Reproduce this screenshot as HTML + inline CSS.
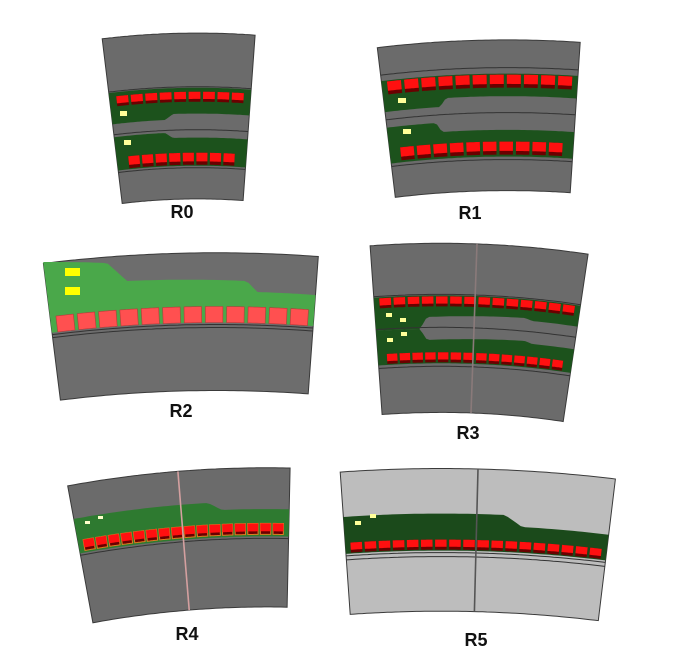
<!DOCTYPE html>
<html><head><meta charset="utf-8"><style>
html,body{margin:0;padding:0;background:#fff;}
svg{display:block;}
text{font-family:"Liberation Sans",sans-serif;font-weight:bold;font-size:18px;fill:#111;}
</style></head><body>
<svg id="s" width="687" height="660" viewBox="0 0 687 660" xmlns="http://www.w3.org/2000/svg"></svg>
<script>
const NS='http://www.w3.org/2000/svg';
const svg=document.getElementById('s');

const panelLabels=['R0','R1','R2','R3','R4','R5'];
const labelPos=[[182,218],[470,219],[181,417],[468,439],[187,640],[476,646]];
const corners=[
 [[102,37],[255,37],[122,202],[243,202]],
 [[377,45],[580,45],[395,195],[570,195]],
 [[43,260],[318,260],[60,397],[308,397]],
 [[370,245],[588,255],[382,413],[563,423]],
 [[67,482],[290,472],[92,618],[287,612]],
 [[340,469],[615,482],[350,612],[598,623]]
];
const G='#1c521c';
const cfgs=[
 {gray:'#6b6b6b',
  bands:[{o:[[178,88]],i:[[165,120],[173,114]],f:G},{o:[[165,133],[173,138]],i:[[178,166]],f:G}],
  pads:[{t:[178,92],b:[178,102],n:9,m:0.04},{t:[178,153],b:[178,165],n:8,m:0.08}],
  lines:[[178,87],[178,130],[178,168]],
  yel:[[120,111,7,5],[124,140,7,5]], ycol:'#ffff99'},
 {gray:'#6b6b6b',
  bands:[{o:[[478,74]],i:[[440,107],[446,98]],f:G},{o:[[436,123],[442,132]],i:[[478,157]],f:G}],
  pads:[{t:[478,75],b:[478,88],n:11,m:0.02},{t:[478,142],b:[478,155],n:10,m:0.05}],
  lines:[[478,68],[478,113],[478,160]],
  yel:[[398,98,8,5],[403,129,8,5]], ycol:'#ffff99'},
 {gray:'#6d6d6d',
  bands:[{o:[[43,262],[107,263],[127,281],[247,281],[257,292]],i:[[180,323]],f:'#4aa84a'}],
  pads:[{t:[180,307],b:[180,323],n:12,m:0.015,style:'light'}],
  lines:[[180,325],[180,328]],
  yel:[[65,268,15,8],[65,287,15,8]], ycol:'#ffff00'},
 {gray:'#6b6b6b',
  bands:[{o:[[476,296]],i:[[420,329],[427,317],[525,318],[532,321]],f:G},{o:[[420,329],[427,340],[525,341],[532,344]],i:[[476,364]],f:G}],
  pads:[{t:[476,297],b:[476,307],n:14,m:0.02},{t:[476,353],b:[476,363],n:14,m:0.04}],
  lines:[[476,295],[476,328],[476,367]],
  yel:[[386,313,6,4],[400,318,6,4],[387,338,6,4],[401,332,6,4]], ycol:'#ffff99',
  div:[477,245], dcol:'#8a7a7a'},
 {gray:'#6b6b6b',
  bands:[{o:[[208,503],[222,510]],i:[[180,540]],f:'#2e7a30'}],
  pads:[{t:[180,527],b:[180,538],n:16,m:0.02,style:'orange'}],
  lines:[[180,542]],
  yel:[[85,521,5,3],[98,516,5,3]], ycol:'#ffffcc',
  div:[178,472], dcol:'#d4a0a0'},
 {gray:'#bdbdbd',
  bands:[{o:[[505,515],[522,527]],i:[[476,551]],f:'#1b4a1b'}],
  pads:[{t:[476,540],b:[476,550],n:18,m:0.015},],
  lines:[[476,553],[476,557]],
  yel:[[355,521,6,4],[370,514,6,4]], ycol:'#ffff99',
  div:[478,469], dcol:'#555'}
];

function mk(tag,parent){const e=document.createElementNS(NS,tag);parent.appendChild(e);return e;}

function drawPanel(idx){
 const c=corners[idx], cfg=cfgs[idx];
 const tl=c[0],tr=c[1],bl=c[2],br=c[3];
 const d1=[bl[0]-tl[0],bl[1]-tl[1]], d2=[br[0]-tr[0],br[1]-tr[1]];
 const det=d1[0]*(-d2[1])-(-d2[0])*d1[1];
 const bx=tr[0]-tl[0], by=tr[1]-tl[1];
 const t=(bx*(-d2[1])-(-d2[0])*by)/det;
 const cx=tl[0]+t*d1[0], cy=tl[1]+t*d1[1];
 const ang=p=>Math.atan2(p[0]-cx,cy-p[1]);
 const rad=p=>Math.hypot(p[0]-cx,p[1]-cy);
 const pt=(r,a)=>[cx+r*Math.sin(a),cy-r*Math.cos(a)];
 const R=(rad(tl)+rad(tr))/2, Rin=(rad(bl)+rad(br))/2;
 const a0=ang(tl), a1=ang(tr);
 const keys=pts=>pts.map(p=>[ang(p),rad(p)]).sort((x,y)=>x[0]-y[0]);
 const interp=(k,a)=>{if(a<=k[0][0])return k[0][1];for(let i=1;i<k.length;i++){if(a<=k[i][0]){const f=(a-k[i-1][0])/(k[i][0]-k[i-1][0]);return k[i-1][1]+f*(k[i][1]-k[i-1][1]);}}return k[k.length-1][1];};
 const fmt=pts=>'M'+pts.map(p=>p[0].toFixed(1)+','+p[1].toFixed(1)).join('L');
 function band(ko,ki,aL,aR,N){N=N||60;const pts=[];for(let i=0;i<=N;i++){const a=aL+(aR-aL)*i/N;pts.push(pt(interp(ko,a),a));}for(let i=N;i>=0;i--){const a=aL+(aR-aL)*i/N;pts.push(pt(interp(ki,a),a));}return fmt(pts)+'Z';}
 function arc(r,aL,aR){const pts=[];for(let i=0;i<=60;i++){const a=aL+(aR-aL)*i/60;pts.push(pt(r,a));}return fmt(pts);}

 const g=mk('g',svg);
 
 

 const bg=mk('path',g);
 bg.setAttribute('d',band([[0,R]],[[0,Rin]],a0,a1));
 bg.setAttribute('fill',cfg.gray);
 bg.setAttribute('stroke','#3a3a3a');
 bg.setAttribute('stroke-width','1');
 
 

 cfg.bands.forEach(b=>{
  const p=mk('path',g);
  p.setAttribute('d',band(keys(b.o),keys(b.i),a0,a1));
  p.setAttribute('fill',b.f);
  
  
 });

 cfg.lines.forEach(l=>{
  const p=mk('path',g);
  p.setAttribute('d',arc(rad(l),a0,a1));
  p.setAttribute('fill','none');
  p.setAttribute('stroke','#333');
  p.setAttribute('stroke-width','1');
  
  
 });

 cfg.pads.forEach(pd=>{
  const rT=rad(pd.t), rB=rad(pd.b);
  const span=a1-a0, aL=a0+pd.m*span, aR=a1-pd.m*span, st=(aR-aL)/pd.n, gap=st*0.09;
  for(let i=0;i<pd.n;i++){
   const s=aL+i*st+gap, e=aL+(i+1)*st-gap;
   if(pd.style==='light'){
    const p=mk('path',g);
    p.setAttribute('d',band([[0,rT]],[[0,rB]],s,e,8));
    p.setAttribute('fill','#ff5050');
    p.setAttribute('stroke','#b83a3a');
    p.setAttribute('stroke-width','0.6');
    
    
   } else {
    const d=mk('path',g);
    d.setAttribute('d',band([[0,rT]],[[0,rB]],s,e,8));
    d.setAttribute('fill','#6a0000');
    if(pd.style==='orange'){d.setAttribute('stroke','#e07b20');d.setAttribute('stroke-width','1');}
    
    
    const r=mk('path',g);
    r.setAttribute('d',band([[0,rT]],[[0,rB+(rT-rB)*0.28]],s,e,8));
    r.setAttribute('fill','#ff1010');
    
    
   }
  }
 });

 if(cfg.div){
  const a=ang(cfg.div);
  const p=mk('path',g);
  p.setAttribute('d',fmt([pt(R,a),pt(Rin,a)]));
  p.setAttribute('stroke',cfg.dcol);
  p.setAttribute('stroke-width','1.6');
  
  
 }

 cfg.yel.forEach(y=>{
  const r=mk('rect',g);
  r.setAttribute('x',y[0]);r.setAttribute('y',y[1]);
  r.setAttribute('width',y[2]);r.setAttribute('height',y[3]);
  r.setAttribute('fill',cfg.ycol);
  
  
 });

 const tx=mk('text',svg);
 tx.setAttribute('x',labelPos[idx][0]);
 tx.setAttribute('y',labelPos[idx][1]);
 tx.setAttribute('text-anchor','middle');
 tx.textContent=panelLabels[idx];
 
 
}
for(let i=0;i<6;i++)drawPanel(i);
</script>
</body></html>
